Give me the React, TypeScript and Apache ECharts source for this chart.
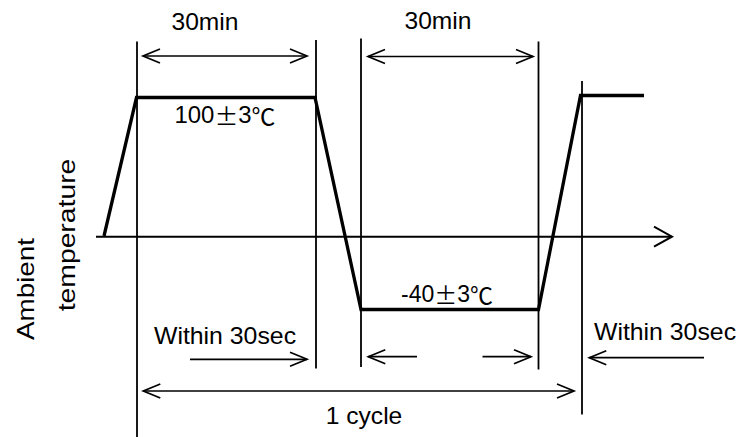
import React, { useEffect, useRef } from 'react';
import * as echarts from 'echarts';

// Schematic units: time = horizontal offset from the time-axis origin,
// level = offset above the time axis (the diagram is not to scale).
const profileTime = [8, 40.5, 219, 265, 442.5, 484.5, 548];
const profileLevel = [0, 138.5, 138.5, -73.5, -73.5, 140.5, 140.5];

// vertical guide lines
const guideTime = [41, 220, 265, 442.5, 486];
const guideTop = [194.5, 196, 197.5, 194.5, 155];
const guideBottom = [-201, -132.5, -131, -133.5, -178.5];

// dimension arrows: tail, tip, level, heads (1 = at tip, 2 = both ends)
const arrowTail = [47, 272, 94, 321, 386.5, 608, 47.3];
const arrowTip = [211, 437, 211, 272.3, 435, 493.3, 478];
const arrowLevel = [180, 179.5, -123.3, -120.7, -120.7, -121.7, -155];
const arrowHeads = [2, 2, 1, 1, 1, 1, 2];

// time axis
const axisTime = [0, 576];
const axisLevel = [-0.7, -0.7];

// annotation texts
const durationLabels = ['30min', '30min'];
const tempLabels = ['{d|100}{s|±}{d|3}{s|℃}', '{d|-40}{s|±}{d|3}{s|℃}'];
const transitionLabels = ['Within 30sec', 'Within 30sec'];
const cycleLabel = '1 cycle';
const yLabelLines = ['Ambient', 'temperature'];

const LATIN = '"Liberation Sans", Arial, sans-serif';
const CJK = '"Noto Sans CJK JP", sans-serif';

function arrowRenderer(headLen: number, headHalf: number, width: number) {
  return (params: any, api: any) => {
    const lv = api.value(2);
    const p0 = api.coord([api.value(0), lv]);
    const p1 = api.coord([api.value(1), lv]);
    const heads = api.value(3);
    const dx = p1[0] - p0[0];
    const dy = p1[1] - p0[1];
    const len = Math.hypot(dx, dy) || 1;
    const ux = dx / len;
    const uy = dy / len;
    const nx = -uy;
    const ny = ux;
    const style = { stroke: '#000', lineWidth: width, fill: 'none', lineJoin: 'miter' };
    const head = (tip: number[], sx: number, sy: number) => ({
      type: 'polyline',
      shape: {
        points: [
          [tip[0] - sx * headLen + nx * headHalf, tip[1] - sy * headLen + ny * headHalf],
          [tip[0], tip[1]],
          [tip[0] - sx * headLen - nx * headHalf, tip[1] - sy * headLen - ny * headHalf],
        ],
      },
      style,
    });
    const children: any[] = [
      { type: 'line', shape: { x1: p0[0], y1: p0[1], x2: p1[0], y2: p1[1] }, style },
      head(p1, ux, uy),
    ];
    if (heads >= 2) children.push(head(p0, -ux, -uy));
    return { type: 'group', children };
  };
}

function textEl(text: string, x: number, y: number, size: number, sx = 1, extra: any = {}) {
  return {
    type: 'text',
    x,
    y,
    scaleX: sx,
    ...extra,
    style: {
      text,
      font: `${size}px ${LATIN}`,
      fontSize: size,
      fontFamily: LATIN,
      fill: '#000',
      textAlign: 'center',
      textVerticalAlign: 'middle',
      align: 'center',
      verticalAlign: 'middle',
      rich: {
        d: { font: `${size}px ${LATIN}`, fontFamily: LATIN, fontSize: size, fill: '#000' },
        s: { font: `${size}px ${CJK}`, fontFamily: CJK, fontSize: size, fill: '#000' },
      },
    },
  };
}

export default function App() {
  const ref = useRef<HTMLDivElement>(null);
  useEffect(() => {
    if (!ref.current) return;
    const chart = echarts.init(ref.current, undefined, { renderer: 'svg' });
    chart.setOption({
      animation: false,
      backgroundColor: '#fff',
      grid: { left: 0, right: 0, top: 0, bottom: 0 },
      xAxis: { type: 'value', min: -96, max: 644, show: false },
      yAxis: { type: 'value', min: -201, max: 236, show: false },
      series: [
        {
          type: 'custom',
          name: 'guides',
          clip: false,
          renderItem: (params: any, api: any) => {
            const a = api.coord([api.value(0), api.value(1)]);
            const b = api.coord([api.value(0), api.value(2)]);
            return {
              type: 'line',
              shape: { x1: a[0], y1: a[1], x2: b[0], y2: b[1] },
              style: { stroke: '#000', lineWidth: 1.8 },
            };
          },
          data: guideTime.map((t, i) => [t, guideTop[i], guideBottom[i]]),
          encode: { x: 0, y: [1, 2] },
        },
        {
          type: 'custom',
          name: 'axis',
          clip: false,
          renderItem: arrowRenderer(18, 10, 2),
          data: [[axisTime[0], axisTime[1], axisLevel[0], 1]],
          encode: { x: [0, 1], y: 2 },
        },
        {
          type: 'custom',
          name: 'arrows',
          clip: false,
          renderItem: arrowRenderer(17, 7, 1.7),
          data: arrowTail.map((t, i) => [t, arrowTip[i], arrowLevel[i], arrowHeads[i]]),
          encode: { x: [0, 1], y: 2 },
        },
        {
          type: 'line',
          name: 'temperature',
          data: profileTime.map((t, i) => [t, profileLevel[i]]),
          showSymbol: false,
          symbol: 'none',
          clip: false,
          lineStyle: { color: '#000', width: 3.3, join: 'miter' },
          z: 5,
        },
      ],
      graphic: [
        textEl(durationLabels[0], 205, 22, 23, 1.07),
        textEl(durationLabels[1], 438, 21, 23, 1.07),
        textEl(tempLabels[0], 225, 115, 23, 1.04),
        textEl(tempLabels[1], 447, 294, 23, 1.0),
        textEl(transitionLabels[0], 225, 336, 23, 1.08),
        textEl(transitionLabels[1], 665, 332, 23, 1.08),
        textEl(cycleLabel, 364, 416, 23, 1.07),
        textEl(yLabelLines[0], 26, 289, 24, 1.16, { rotation: Math.PI / 2 }),
        textEl(yLabelLines[1], 67, 235, 24, 1.18, { rotation: Math.PI / 2 }),
      ],
    });
    return () => chart.dispose();
  }, []);
  return (
    <div
      ref={ref}
      style={{ position: 'absolute', left: 0, top: 0, width: 740, height: 437, background: '#fff' }}
    />
  );
}
